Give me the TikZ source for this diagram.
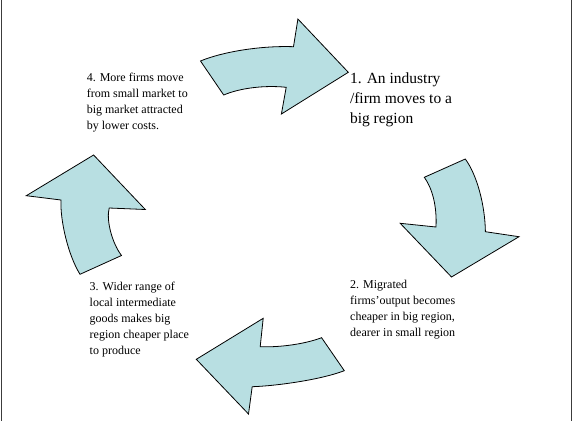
\documentclass[tikz,border=0pt]{standalone}
\usepackage{fontspec}
\setmainfont{Liberation Serif}
\usepackage{tikz}
\usetikzlibrary{arrows,positioning}
\definecolor{col1}{RGB}{184,223,226}
\definecolor{col2}{RGB}{60,60,60}
\tikzstyle{bigarrow}=[draw=black, fill=col1, line width=0.8pt, line join=miter]
\tikzstyle{note}=[inner sep=0pt, anchor=north west, align=left, font=\fontsize{12}{16}\selectfont]
\tikzstyle{bignote}=[inner sep=0pt, anchor=north west, align=left, font=\fontsize{15.5}{20}\selectfont]
\begin{document}
\begin{tikzpicture}[x=1pt,y=-1pt]
		    \useasboundingbox (0,0) rectangle (573,421);
		    \draw[col2, line width=1pt] (1,0) -- (1,421) (571.5,0) -- (571.5,421);
		    \path[bigarrow] (200.5,61) .. controls (222,52) and (260,45.5) .. (293.5,46.7) -- (297.9,19) -- (348.3,72.3) -- (281.4,114) -- (286.2,87.3) .. controls (265,85) and (240,88) .. (223.7,95) -- cycle;
		    \path[bigarrow] (465.3,159) .. controls (477,175) and (485,205) .. (485.4,231.7) -- (519,236.7) -- (451.5,277) -- (400.2,223.3) -- (436,227) .. controls (437,205) and (432,188) .. (424.3,177.3) -- cycle;
		    \path[bigarrow] (321.6,337.7) .. controls (305,344) and (280,347.5) .. (260.2,346.7) -- (263.2,318.3) -- (196.3,359.3) -- (248.5,414) -- (252.2,386.7) .. controls (275,386) and (320,380) .. (344.3,370.7) -- cycle;
		    \path[bigarrow] (80,274.3) .. controls (68,255) and (60,220) .. (61,200) -- (26.3,195.7) -- (93.6,155) -- (145.3,209.5) -- (109.2,208) .. controls (106,220) and (112,243) .. (121.5,255.5) -- cycle;
		    \node[bignote] (a) at (349.8,73) {1. An industry\\/firm moves to a\\big region};
		    \node[note] (b) at (350,280.3) {2. Migrated\\firms’output becomes\\cheaper in big region,\\dearer in small region};
		    \node[note] (c) at (89.5,282.3) {3. Wider range of\\local intermediate\\goods makes big\\region cheaper place\\to produce};
		    \node[note] (d) at (86.6,73.1) {4. More firms move\\from small market to\\big market attracted\\by lower costs.};
		\end{tikzpicture}
\end{document}
